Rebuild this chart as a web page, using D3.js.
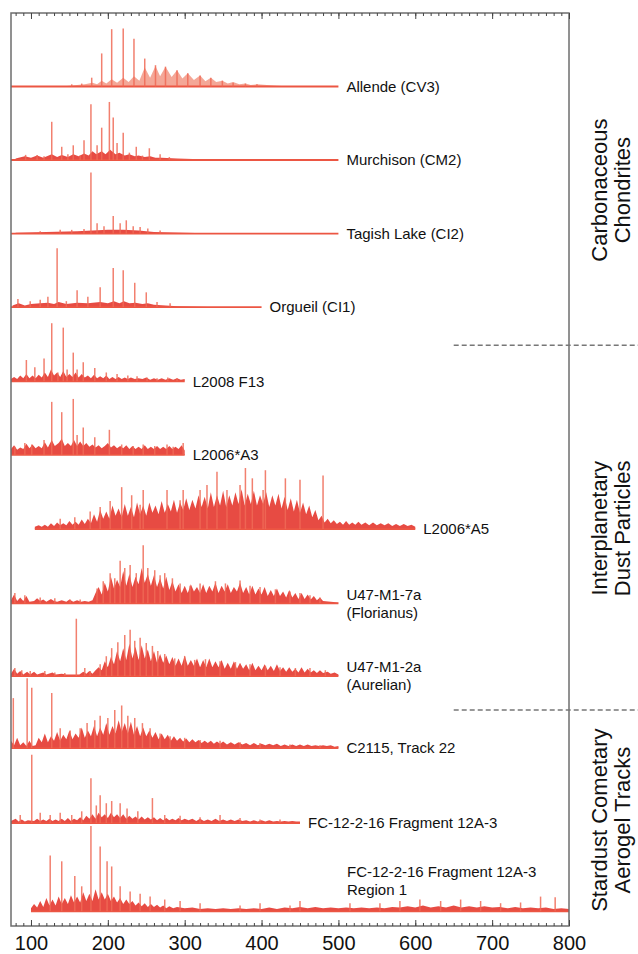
<!DOCTYPE html>
<html>
<head>
<meta charset="utf-8">
<script src="https://cdn.jsdelivr.net/npm/d3@7"></script>
<style>
  body { margin: 0; background: #fff; }
  svg { display: block; font-family: "Liberation Sans", Arial, Helvetica, sans-serif; }
</style>
</head>
<body>
<div id="chart"></div>
<script>
// stacked mass spectra, m/z 74..800, offsets in "row" units (100 = one row)
const width = 638, height = 954;

const names = ["Allende (CV3)", "Murchison (CM2)", "Tagish Lake (CI2)", "Orgueil (CI1)",
  "L2008 F13", "L2006*A3", "L2006*A5", "U47-M1-7a\n(Florianus)", "U47-M1-2a\n(Aurelian)",
  "C2115, Track 22", "FC-12-2-16 Fragment 12A-3", "FC-12-2-16 Fragment 12A-3\nRegion 1"];
const offsets = [1142, 1042, 942, 842, 741, 641, 540, 439, 340, 242, 140, 20];
const traceStart = [74, 74, 74, 74, 74, 74, 105, 74, 74, 74, 74, 100];
const traceEnd = [500, 500, 500, 400, 300, 300, 600, 500, 500, 500, 450, 800];

const groups = [["Carbonaceous", "Chondrites"], ["Interplanetary", "Dust Particles"], ["Stardust Cometary", "Aerogel Tracks"]];
const groupCenter = [1001, 541, 144];
const groupBreaks = [790, 294];
const xTicks = [100, 200, 300, 400, 500, 600, 700, 800];

// major peaks [m/z, intensity]
const peaksAllende = [[153,3],[166,4],[179,12],[192,45],[205,78],[220,79],[234,65],[248,38],[262,29],[275,27],[290,22],[304,18],[320,15],[334,12],[349,8],[363,5],[379,4],[394,3]];
const peaksMurchison = [[93,7],[108,7],[117,5],[127,52],[140,18],[148,8],[155,20],[164,6],[169,27],[178,76],[186,20],[192,44],[202,79],[207,58],[212,23],[220,37],[228,10],[237,18],[245,6],[254,16],[268,8],[280,4]];
const peaksTagish = [[112,3],[138,5],[153,5],[169,6],[178,83],[186,14],[195,10],[207,24],[216,14],[224,18],[233,10],[242,9],[252,7],[268,4]];
const peaksOrgueil = [[83,11],[99,8],[112,10],[122,14],[134,80],[146,8],[160,23],[174,14],[190,27],[207,53],[220,50],[235,33],[250,20],[264,7],[281,5]];
const peaksF13 = [[94,29],[105,19],[117,31],[127,79],[135,12],[142,73],[147,16],[155,39],[160,16],[168,26],[183,18],[198,12],[212,10],[226,8],[238,7],[251,5],[264,4],[278,5],[290,4]];
const peaksA3 = [[79,11],[92,16],[101,14],[117,20],[127,72],[140,58],[155,76],[160,27],[168,37],[183,24],[202,34],[218,14],[233,12],[246,14],[261,12],[277,14],[285,11],[298,16]];
const peaksA5 = [[138,14],[157,16],[177,24],[190,30],[203,38],[218,57],[231,46],[242,33],[246,53],[277,53],[294,39],[298,53],[320,53],[329,60],[342,78],[355,53],[372,60],[379,83],[388,69],[402,53],[405,80],[431,69],[450,67],[480,73]];
const peaks7a = [[79,14],[92,11],[112,8],[131,7],[151,5],[164,5],[186,20],[194,30],[203,41],[209,34],[216,58],[222,48],[229,52],[237,41],[246,79],[252,48],[261,45],[268,38],[274,41],[284,34],[294,27],[307,24],[320,27],[340,30],[353,27],[372,31],[385,24],[398,22],[418,19],[437,16],[450,14],[463,11],[476,8]];
const peaks2a = [[79,11],[88,8],[99,7],[118,7],[131,5],[144,4],[159,78],[170,11],[177,7],[190,16],[198,27],[205,38],[213,46],[222,56],[229,63],[235,48],[242,52],[250,45],[258,41],[265,34],[274,30],[287,24],[300,27],[313,22],[327,23],[346,20],[366,19],[385,16],[405,14],[424,12],[444,11],[463,11],[483,8]];
const peaksC2115 = [[77,68],[95,95],[101,82],[127,75],[138,27],[151,24],[164,27],[173,34],[183,38],[190,44],[200,41],[209,52],[218,58],[226,44],[235,41],[245,34],[255,27],[268,20],[281,16],[300,14],[320,11],[346,10],[372,8],[398,7],[437,5],[476,4]];
const peaksFC = [[86,11],[101,93],[112,14],[125,11],[138,14],[153,11],[166,16],[178,61],[185,24],[190,38],[198,27],[205,30],[216,27],[225,20],[239,16],[258,34],[274,11],[294,10],[320,8],[346,11],[372,7],[398,5],[424,5]];
const peaksRegion1 = [[125,76],[140,68],[157,48],[166,34],[178,116],[190,88],[199,68],[205,61],[216,34],[229,27],[242,24],[255,20],[274,16],[294,14],[320,11],[372,8],[398,11],[437,8],[450,14],[515,11],[554,11],[580,14],[606,16],[633,14],[659,16],[685,14],[711,11],[737,12],[763,20],[782,19]];

// dense low-level forest envelope [m/z, intensity]
const envAllende = [[140,0],[170,3],[180,5],[186,3],[192,8],[198,4],[205,10],[212,5],[220,12],[227,6],[234,14],[241,8],[248,26],[255,12],[262,28],[268,14],[275,27],[283,13],[290,22],[297,11],[304,18],[312,9],[320,15],[327,7],[334,12],[341,6],[349,8],[356,4],[363,6],[371,3],[379,4],[386,2],[394,3],[420,1],[440,0]];
const envMurchison = [[80,2],[92,5],[100,3],[108,6],[116,3],[127,8],[134,4],[140,7],[148,4],[155,8],[162,5],[169,9],[175,6],[180,12],[185,8],[192,12],[197,8],[203,14],[210,8],[215,10],[222,6],[228,8],[235,5],[240,6],[248,4],[255,5],[262,3],[270,3],[290,2],[320,1],[360,0]];
const envTagish = [[80,1],[120,2],[160,3],[180,4],[200,5],[220,5],[240,4],[260,2],[300,1],[340,0]];
const envOrgueil = [[76,2],[84,5],[92,2],[100,4],[112,5],[122,6],[130,4],[136,7],[146,4],[160,6],[174,5],[190,7],[200,5],[208,8],[215,5],[221,8],[228,5],[236,6],[245,4],[252,5],[260,3],[290,1],[330,0]];
const envF13 = [[74,3],[78,6],[82,3],[86,8],[90,4],[94,10],[98,4],[102,8],[106,4],[110,9],[114,5],[118,12],[122,6],[126,16],[130,8],[134,12],[138,6],[142,14],[146,6],[150,10],[154,6],[158,12],[162,5],[166,10],[170,5],[174,8],[178,4],[182,9],[186,4],[190,7],[194,4],[198,8],[202,3],[206,6],[210,3],[214,6],[218,3],[222,5],[226,3],[230,5],[235,3],[240,4],[245,3],[250,5],[255,2],[260,4],[265,2],[270,4],[275,2],[280,4],[285,2],[290,4],[295,2],[300,3]];
const envA3 = [[74,8],[78,13],[82,7],[86,10],[90,8],[94,15],[98,9],[102,14],[106,9],[110,12],[114,9],[118,17],[122,10],[127,20],[131,12],[136,16],[140,22],[144,12],[148,16],[152,12],[156,20],[160,12],[164,18],[168,12],[172,16],[176,11],[180,14],[184,10],[188,13],[192,9],[196,12],[200,16],[204,10],[208,13],[212,9],[216,12],[220,9],[224,13],[228,8],[232,12],[236,8],[240,11],[244,8],[248,13],[252,8],[256,11],[260,8],[264,12],[268,8],[272,11],[276,8],[280,12],[284,8],[288,11],[292,8],[296,13],[300,6]];
const envA5 = [[105,3],[110,5],[114,3],[118,6],[122,3],[126,8],[130,4],[134,9],[138,5],[142,8],[146,5],[150,11],[154,6],[158,10],[162,6],[166,13],[170,7],[174,14],[178,8],[182,20],[186,10],[190,26],[194,14],[198,24],[202,14],[206,32],[210,18],[214,28],[218,16],[222,34],[226,18],[230,30],[234,16],[238,36],[242,20],[246,32],[250,18],[254,36],[258,22],[262,32],[266,20],[270,38],[274,22],[278,34],[282,24],[286,40],[290,22],[294,36],[298,26],[302,42],[306,26],[310,40],[314,28],[318,46],[322,30],[326,44],[330,28],[334,50],[338,30],[342,46],[346,32],[350,52],[354,30],[358,46],[362,32],[366,50],[370,34],[374,54],[378,32],[382,48],[386,34],[390,52],[394,32],[398,46],[402,34],[406,50],[410,30],[414,46],[418,32],[422,48],[426,28],[430,44],[434,26],[438,42],[442,24],[446,40],[450,22],[454,36],[458,20],[462,32],[466,16],[470,26],[474,12],[478,18],[482,9],[486,14],[490,8],[494,12],[498,7],[502,10],[506,6],[510,11],[514,6],[518,9],[522,6],[526,10],[530,6],[535,9],[540,5],[545,9],[550,5],[555,8],[560,5],[565,8],[570,4],[575,7],[580,4],[585,7],[590,4],[595,6],[600,3]];
const env7a = [[74,4],[78,12],[82,3],[86,8],[90,3],[94,10],[98,2],[104,3],[108,7],[112,3],[116,5],[120,2],[126,6],[130,3],[134,2],[140,4],[146,2],[150,5],[155,2],[160,4],[165,2],[170,3],[175,2],[180,4],[184,14],[188,22],[192,12],[196,28],[200,16],[204,36],[208,20],[212,32],[216,22],[220,44],[224,24],[228,40],[232,22],[236,36],[240,26],[244,48],[248,28],[252,40],[256,24],[260,38],[264,22],[268,34],[272,20],[276,36],[280,18],[284,30],[288,16],[292,26],[296,14],[300,24],[304,14],[308,26],[312,16],[316,22],[320,14],[324,26],[328,14],[332,24],[336,16],[340,28],[344,14],[348,24],[352,16],[356,26],[360,14],[364,22],[368,16],[372,28],[376,14],[380,22],[384,12],[388,24],[392,12],[396,20],[400,12],[404,22],[408,10],[412,18],[416,10],[420,20],[424,10],[428,16],[432,8],[436,18],[440,8],[444,14],[448,6],[452,14],[456,6],[460,12],[464,5],[468,10],[472,4],[476,8],[480,3],[490,2],[500,1]];
const env2a = [[74,3],[78,10],[82,3],[86,7],[90,2],[95,6],[99,2],[104,6],[108,2],[116,5],[120,2],[128,5],[132,2],[140,3],[146,2],[152,2],[163,2],[168,6],[172,3],[176,7],[180,3],[184,8],[188,12],[192,8],[196,20],[200,12],[204,26],[208,16],[212,34],[216,20],[220,38],[224,22],[228,44],[232,24],[236,40],[240,22],[244,42],[248,24],[252,36],[256,20],[260,34],[264,18],[268,30],[272,18],[276,28],[280,16],[284,26],[288,14],[292,24],[296,14],[300,28],[304,14],[308,22],[312,14],[316,24],[320,12],[324,22],[328,12],[332,24],[336,12],[340,20],[344,12],[348,22],[352,10],[356,18],[360,10],[364,20],[368,10],[372,18],[376,10],[380,16],[384,8],[388,18],[392,8],[396,14],[400,8],[404,16],[408,8],[412,14],[416,7],[420,16],[424,7],[428,12],[432,6],[436,12],[440,6],[444,10],[448,5],[452,12],[456,5],[460,10],[464,5],[468,8],[472,4],[476,8],[480,4],[486,6],[490,3],[495,5],[500,2]];
const envC2115 = [[74,10],[78,4],[82,14],[86,4],[90,8],[94,3],[98,10],[102,3],[106,4],[110,14],[114,8],[118,20],[122,8],[126,16],[130,10],[134,22],[138,10],[142,18],[146,12],[150,24],[154,12],[158,20],[162,14],[166,28],[170,14],[174,24],[178,16],[182,30],[186,16],[190,28],[194,18],[198,34],[202,18],[206,30],[210,20],[214,38],[218,22],[222,34],[226,20],[230,36],[234,18],[238,30],[242,16],[246,28],[250,16],[254,24],[258,14],[262,22],[266,12],[270,20],[274,12],[278,18],[282,10],[286,16],[290,10],[294,14],[298,9],[302,13],[306,8],[310,12],[314,8],[318,11],[322,7],[326,10],[330,7],[334,10],[338,6],[342,9],[346,6],[350,9],[355,5],[360,8],[365,5],[370,8],[375,5],[380,7],[385,4],[390,7],[395,4],[400,6],[405,4],[410,6],[415,4],[420,6],[425,3],[430,5],[435,3],[440,5],[445,3],[450,5],[455,3],[460,5],[465,3],[470,4],[475,3],[480,4],[485,3],[490,4],[495,2],[500,3]];
const envFC = [[74,3],[80,6],[84,2],[88,5],[92,2],[96,4],[104,3],[108,6],[112,3],[116,5],[120,3],[124,6],[128,3],[132,5],[136,3],[140,6],[144,3],[148,7],[152,3],[156,6],[160,4],[164,8],[168,4],[172,10],[176,6],[180,12],[184,6],[188,14],[192,8],[196,12],[200,7],[204,14],[208,8],[212,12],[216,7],[220,12],[224,6],[228,10],[232,6],[236,9],[240,5],[244,9],[248,5],[252,8],[256,5],[260,8],[264,4],[268,7],[272,4],[276,7],[280,4],[284,6],[288,4],[292,7],[296,4],[300,6],[305,4],[310,6],[315,3],[320,6],[325,3],[330,5],[335,3],[340,6],[345,3],[350,5],[355,3],[360,5],[365,3],[370,5],[375,3],[380,4],[385,2],[390,4],[395,2],[400,4],[405,2],[410,4],[415,2],[420,3],[425,2],[430,3],[435,2],[440,3],[445,2],[450,2]];
const envRegion1 = [[100,4],[104,10],[108,5],[112,14],[116,6],[120,18],[124,8],[128,16],[132,8],[136,20],[140,10],[144,18],[148,10],[152,22],[156,12],[160,20],[164,12],[168,26],[172,14],[176,24],[180,14],[184,30],[188,16],[192,26],[196,16],[200,24],[204,14],[208,20],[212,12],[216,18],[220,10],[224,16],[228,10],[232,14],[236,8],[240,12],[244,7],[248,11],[252,6],[256,10],[260,6],[264,9],[268,5],[272,8],[276,4],[280,7],[285,4],[290,6],[300,4],[310,5],[320,3],[330,4],[340,3],[350,4],[360,3],[370,4],[380,3],[390,4],[400,3],[410,5],[420,3],[430,5],[440,4],[450,6],[460,4],[470,6],[480,4],[490,5],[500,4],[510,5],[520,4],[530,5],[540,4],[550,5],[560,4],[570,6],[580,5],[590,7],[600,5],[610,8],[620,5],[630,7],[640,5],[650,8],[660,5],[670,7],[680,5],[690,7],[700,5],[710,6],[720,4],[730,6],[740,4],[750,5],[760,4],[770,5],[780,3],[790,4],[800,3]];

const peaks = [peaksAllende, peaksMurchison, peaksTagish, peaksOrgueil, peaksF13, peaksA3, peaksA5, peaks7a, peaks2a, peaksC2115, peaksFC, peaksRegion1];
const envs = [envAllende, envMurchison, envTagish, envOrgueil, envF13, envA3, envA5, env7a, env2a, envC2115, envFC, envRegion1];

const plot = {left: 11, right: 569, top: 13, bottom: 926};

let svg = d3.select("#chart").append("svg")
    .attr("width", width)
    .attr("height", height);

let x = d3.scaleLinear().domain([74, 800]).range([plot.left, plot.right]);
let y = d3.scaleLinear().domain([0, 1242]).range([plot.bottom, plot.top]);

// spectra
names.forEach(function(name, i) {
    let g = svg.append("g");
    let base = offsets[i];
    let env = envs[i];
    // Allende forest reads lighter (salmon humps)
    let fill = i == 0 ? "#f08a74" : "#e2231a";

    g.append("path")
        .datum(env)
        .attr("fill", fill)
        .attr("opacity", i == 0 ? 0.75 : 0.82)
        .attr("d", d3.area()
            .x(function(d) { return x(d[0]); })
            .y0(y(base))
            .y1(function(d) { return y(base + d[1]); }));

    // baseline
    g.append("line")
        .attr("x1", x(traceStart[i]))
        .attr("x2", x(traceEnd[i]))
        .attr("y1", y(base))
        .attr("y2", y(base))
        .attr("stroke", "#ec5643")
        .attr("stroke-width", 1.8);

    // peaks
    g.selectAll("line.pk").data(peaks[i]).enter()
        .append("line")
        .attr("x1", function(d) { return x(d[0]); })
        .attr("x2", function(d) { return x(d[0]); })
        .attr("y1", y(base))
        .attr("y2", function(d) { return y(base + d[1]); })
        .attr("stroke", "#f06a56")
        .attr("stroke-width", 1.5)
        .attr("opacity", 0.85);

    // label
    let lines = name.split("\n");
    let lx = i == 11 ? 347 : x(traceEnd[i]) + 8;
    let ly = i == 11 ? y(base) - 40 : y(base) - (lines.length - 1) * 9;
    let t = g.append("text")
        .attr("x", lx)
        .attr("y", ly)
        .style("font-size", "15px")
        .attr("fill", "#111");
    lines.forEach(function(l, k) {
        t.append("tspan")
            .attr("x", lx)
            .attr("y", ly + k * 18)
            .attr("dy", "0.35em")
            .text(l);
    });
});

// frame
svg.append("rect")
    .attr("x", plot.left)
    .attr("y", plot.top)
    .attr("width", plot.right - plot.left)
    .attr("height", plot.bottom - plot.top)
    .attr("fill", "none")
    .attr("stroke", "#6e6e6e")
    .attr("stroke-width", 1.5);

// axes: major + minor ticks, inward on top and bottom
let minor = d3.range(80, 801, 10);
let topMinor = svg.append("g").attr("transform", `translate(0, ${plot.top})`)
    .call(d3.axisTop(x).tickValues(minor).tickSizeInner(-3).tickSizeOuter(0).tickFormat(""));
let topMajor = svg.append("g").attr("transform", `translate(0, ${plot.top})`)
    .call(d3.axisTop(x).tickValues(xTicks).tickSizeInner(-6).tickSizeOuter(0).tickFormat(""));
let botMinor = svg.append("g").attr("transform", `translate(0, ${plot.bottom})`)
    .call(d3.axisBottom(x).tickValues(minor).tickSizeInner(-3).tickSizeOuter(0).tickFormat(""));
let botMajor = svg.append("g").attr("transform", `translate(0, ${plot.bottom})`)
    .call(d3.axisBottom(x).tickValues(xTicks).tickSizeInner(-6).tickSizeOuter(0).tickPadding(10));
[topMinor, topMajor, botMinor, botMajor].forEach(function(a) {
    a.select(".domain").remove();
    a.selectAll("line").attr("stroke", "#444").attr("stroke-width", 1);
});
botMajor.selectAll("text")
    .style("font-size", "20px")
    .style("font-family", "'Liberation Sans', Arial, sans-serif")
    .attr("fill", "#111");

// group separators
svg.selectAll("line.sep").data(groupBreaks).enter()
    .append("line")
    .attr("x1", x(650))
    .attr("x2", width)
    .attr("y1", function(d) { return y(d); })
    .attr("y2", function(d) { return y(d); })
    .attr("stroke", "#777")
    .attr("stroke-width", 1.5)
    .attr("stroke-dasharray", "5,3");

// group labels
groups.forEach(function(gl, i) {
    let cy = y(groupCenter[i]);
    gl.forEach(function(l, k) {
        svg.append("text")
            .attr("transform", `translate(${607 + k * 23}, ${cy}) rotate(-90)`)
            .style("text-anchor", "middle")
            .style("font-size", "22px")
            .attr("fill", "#111")
            .text(l);
    });
});
</script>
</body>
</html>
